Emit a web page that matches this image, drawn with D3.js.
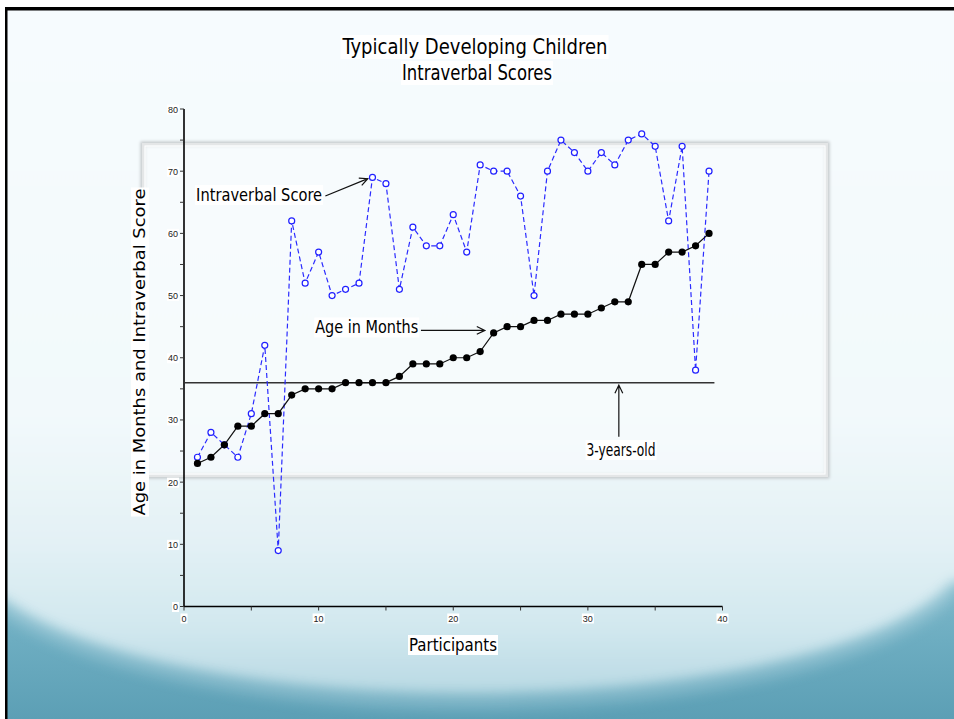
<!DOCTYPE html>
<html>
<head>
<meta charset="utf-8">
<script src="https://cdn.jsdelivr.net/npm/d3@7"></script>
<style>
  html, body { margin: 0; padding: 0; background: #ffffff; }
  svg { display: block; }
</style>
</head>
<body>
<div id="chart"></div>
<script>
// participants 1..39
const participants = d3.range(1, 40);
const ageMonths = [23, 24, 26, 29, 29, 31, 31, 34, 35, 35, 35, 36, 36, 36, 36, 37, 39, 39, 39, 40,
                   40, 41, 44, 45, 45, 46, 46, 47, 47, 47, 48, 49, 49, 55, 55, 57, 57, 58, 60];
const intraverbal = [24, 28, 26, 24, 31, 42, 9, 62, 52, 57, 50, 51, 52, 69, 68, 51, 61, 58, 58, 63,
                     57, 71, 70, 70, 66, 50, 70, 75, 73, 70, 73, 71, 75, 76, 74, 62, 74, 38, 70];
const xTicks = [0, 10, 20, 30, 40];
const yTicks = [0, 10, 20, 30, 40, 50, 60, 70, 80];
const threeYears = 36;

const W = 954, H = 719;
const svg = d3.select("#chart").append("svg").attr("width", W).attr("height", H);
const defs = svg.append("defs");

// slide background
const gLight = defs.append("linearGradient").attr("id", "light")
    .attr("gradientUnits", "userSpaceOnUse").attr("x1", 0).attr("y1", 0).attr("x2", 0).attr("y2", 695);
gLight.append("stop").attr("offset", 0).attr("stop-color", "#f6fbfe");
gLight.append("stop").attr("offset", 0.6).attr("stop-color", "#f2f9fb");
gLight.append("stop").attr("offset", 0.78).attr("stop-color", "#e3f1f5");
gLight.append("stop").attr("offset", 0.9).attr("stop-color", "#d2e8ef");
gLight.append("stop").attr("offset", 1).attr("stop-color", "#b8d9e3");

const gTeal = defs.append("linearGradient").attr("id", "teal")
    .attr("gradientUnits", "userSpaceOnUse").attr("x1", 0).attr("y1", 560).attr("x2", 0).attr("y2", 719);
gTeal.append("stop").attr("offset", 0).attr("stop-color", "#84bccd");
gTeal.append("stop").attr("offset", 0.5).attr("stop-color", "#6dadc1");
gTeal.append("stop").attr("offset", 1).attr("stop-color", "#5c9fb5");

defs.append("filter").attr("id", "soft").attr("x", "-10%").attr("y", "-10%").attr("width", "120%").attr("height", "130%")
    .append("feGaussianBlur").attr("stdDeviation", 7);

const shadow = defs.append("filter").attr("id", "shadow").attr("x", "-5%").attr("y", "-5%").attr("width", "110%").attr("height", "110%");
shadow.append("feGaussianBlur").attr("stdDeviation", 1.5);

svg.append("rect").attr("x", 0).attr("y", 0).attr("width", W).attr("height", H).attr("fill", "url(#teal)");
svg.append("path")
    .attr("d", "M-40,-40 H994 V582 H954 A500,150 0 0 1 0,598 H-40 Z")
    .attr("fill", "url(#light)")
    .attr("filter", "url(#soft)");
// thin highlight along the arc
svg.append("path")
    .attr("d", "M954,590 A500,150 0 0 1 0,606")
    .attr("fill", "none")
    .attr("stroke", "#b5d8e3")
    .attr("stroke-width", 8)
    .attr("opacity", 0.5)
    .attr("filter", "url(#soft)");

// white strip + black border top/left
svg.append("rect").attr("x", 0).attr("y", 0).attr("width", W).attr("height", 7).attr("fill", "#ffffff");
svg.append("rect").attr("x", 0).attr("y", 0).attr("width", 5).attr("height", H).attr("fill", "#ffffff");
svg.append("rect").attr("x", 5).attr("y", 7).attr("width", W - 5).attr("height", 3.5).attr("fill", "#000000");
svg.append("rect").attr("x", 5).attr("y", 7).attr("width", 2.5).attr("height", H - 7).attr("fill", "#000000");

// decorative frame
svg.append("rect")
    .attr("x", 143).attr("y", 144).attr("width", 684).attr("height", 332)
    .attr("fill", "none").attr("stroke", "#c4c8ca").attr("stroke-width", 5)
    .attr("filter", "url(#shadow)");
svg.append("rect")
    .attr("x", 143).attr("y", 144).attr("width", 684).attr("height", 332)
    .attr("fill", "#f8fcfd").attr("fill-opacity", 0.6)
    .attr("stroke", "#e4e6e7").attr("stroke-width", 2);
svg.append("rect")
    .attr("x", 145).attr("y", 146).attr("width", 680).attr("height", 328)
    .attr("fill", "none").attr("stroke", "#ffffff").attr("stroke-width", 1);

const x = d3.scaleLinear().domain([0, 40]).range([184, 722.5]);
const y = d3.scaleLinear().domain([0, 80]).range([606.5, 109]);

const narrow = "'Liberation Sans Narrow', 'DejaVu Sans Condensed', sans-serif";

// text with white box behind it
function boxedText(g, txt, opts) {
    const grp = g.append("g");
    const t = grp.append("text")
        .attr("x", opts.x).attr("y", opts.y)
        .attr("text-anchor", opts.anchor || "start")
        .attr("font-family", opts.family || narrow)
        .attr("font-size", opts.size)
        .attr("fill", opts.color || "#000")
        .text(txt);
    if (opts.length) t.attr("textLength", opts.length).attr("lengthAdjust", "spacingAndGlyphs");
    if (opts.rotate) grp.attr("transform", opts.rotate);
    const bb = t.node().getBBox();
    const pad = opts.pad == null ? 1 : opts.pad;
    grp.insert("rect", "text")
        .attr("x", bb.x - pad).attr("y", bb.y)
        .attr("width", bb.width + pad * 2).attr("height", bb.height)
        .attr("fill", "#ffffff");
    return grp;
}

// title
boxedText(svg, "Typically  Developing  Children", { x: 475, y: 54, anchor: "middle", size: 21, length: 265 });
boxedText(svg, "Intraverbal Scores", { x: 477, y: 80, anchor: "middle", size: 21, length: 150 });

// axes
const axis = svg.append("g");
axis.append("line").attr("x1", x(0)).attr("x2", x(40)).attr("y1", y(0)).attr("y2", y(0))
    .attr("stroke", "#000").attr("stroke-width", 1.6);
axis.append("line").attr("x1", x(0)).attr("x2", x(0)).attr("y1", y(0)).attr("y2", y(80))
    .attr("stroke", "#000").attr("stroke-width", 1.6);

d3.range(0, 41, 5).forEach(v => {
    axis.append("line").attr("x1", x(v)).attr("x2", x(v)).attr("y1", y(0)).attr("y2", y(0) + 4)
        .attr("stroke", "#333").attr("stroke-width", 1);
});
d3.range(0, 81, 5).forEach(v => {
    axis.append("line").attr("x1", x(0) - 4).attr("x2", x(0)).attr("y1", y(v)).attr("y2", y(v))
        .attr("stroke", "#333").attr("stroke-width", 1);
});
xTicks.forEach(v => {
    boxedText(axis, String(v), { x: x(v), y: y(0) + 15, anchor: "middle", size: 9, family: "'Liberation Sans', Arial, sans-serif", color: "#222", pad: 1 });
});
yTicks.forEach(v => {
    boxedText(axis, String(v), { x: x(0) - 6, y: y(v) + 3.5, anchor: "end", size: 9, family: "'Liberation Sans', Arial, sans-serif", color: "#222", pad: 1 });
});

boxedText(svg, "Participants", { x: 453, y: 651, anchor: "middle", size: 17, length: 88 });
boxedText(svg, "Age  in  Months  and  Intraverbal  Score", {
    x: 0, y: 0, anchor: "middle", size: 15, family: "'DejaVu Sans', Verdana, sans-serif",
    length: 327, rotate: "translate(145,352) rotate(-90)"
});

// 3-years-old reference line
svg.append("line")
    .attr("x1", x(0)).attr("x2", x(39.4))
    .attr("y1", y(threeYears)).attr("y2", y(threeYears))
    .attr("stroke", "#333").attr("stroke-width", 1.5);

// series
const seriesLine = d3.line().x((d, i) => x(participants[i])).y(d => y(d));
svg.append("path").datum(intraverbal)
    .attr("d", seriesLine)
    .attr("fill", "none").attr("stroke", "#2b2bff").attr("stroke-width", 1.2)
    .attr("stroke-dasharray", "5,3");
svg.append("path").datum(ageMonths)
    .attr("d", seriesLine)
    .attr("fill", "none").attr("stroke", "#111").attr("stroke-width", 1.2);

svg.selectAll(".iv").data(intraverbal).enter().append("circle")
    .attr("class", "iv")
    .attr("cx", (d, i) => x(participants[i])).attr("cy", d => y(d))
    .attr("r", 3).attr("fill", "#ffffff").attr("stroke", "#2020ff").attr("stroke-width", 1.2);
svg.selectAll(".age").data(ageMonths).enter().append("circle")
    .attr("class", "age")
    .attr("cx", (d, i) => x(participants[i])).attr("cy", d => y(d))
    .attr("r", 3.6).attr("fill", "#000");

// annotations
function arrow(x1, y1, x2, y2) {
    const px1 = x(x1), py1 = y(y1), px2 = x(x2), py2 = y(y2);
    const a = Math.atan2(py2 - py1, px2 - px1), L = 9, s = 0.45;
    svg.append("path")
        .attr("d", `M${px1},${py1}L${px2},${py2}` +
            `M${px2 - L * Math.cos(a - s)},${py2 - L * Math.sin(a - s)}L${px2},${py2}` +
            `L${px2 - L * Math.cos(a + s)},${py2 - L * Math.sin(a + s)}`)
        .attr("fill", "none").attr("stroke", "#111").attr("stroke-width", 1.2);
}

boxedText(svg, "Intraverbal  Score", { x: x(0.9), y: y(65.2), size: 17, length: 126 });
arrow(10.5, 66.0, 13.65, 68.8);

boxedText(svg, "Age  in  Months", { x: x(9.75), y: y(43.9), size: 17, length: 103 });
arrow(17.6, 44.4, 22.35, 44.4);

boxedText(svg, "3-years-old", { x: x(29.9), y: y(24.2), size: 17, length: 69 });
arrow(32.3, 27.3, 32.3, 35.6);
</script>
</body>
</html>
